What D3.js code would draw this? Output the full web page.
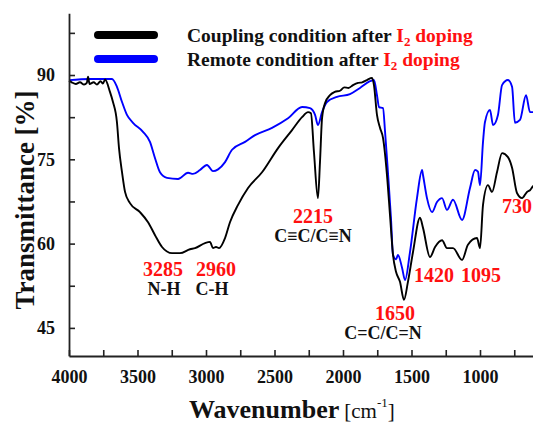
<!DOCTYPE html>
<html>
<head>
<meta charset="utf-8">
<script src="https://cdn.jsdelivr.net/npm/d3@7"></script>
<style>
  html, body { margin: 0; padding: 0; background: #fff; }
  svg { display: block; }
  text { font-family: "Liberation Serif", "Times New Roman", serif; }
</style>
</head>
<body>
<svg id="chart" width="533" height="425"></svg>
<script>
// ---------------- DATA ----------------
const seriesNames = ["Coupling condition after ", "Remote condition after "];
const dopingLabel = ["I", "2", " doping"];

const couplingWn = [4000, 3980, 3950, 3920, 3890, 3870, 3861, 3850, 3820, 3796, 3770, 3752, 3737,
  3701, 3679, 3650, 3635, 3613, 3591, 3555, 3482, 3423, 3372, 3321, 3248, 3190, 3117, 3080,
  3007, 2971, 2949, 2927, 2905, 2861, 2825, 2766, 2693, 2591, 2474, 2372, 2299, 2255, 2234,
  2212, 2183, 2168, 2153, 2131, 2095, 2060, 2022, 1990, 1960, 1927, 1890, 1860, 1825, 1788,
  1774, 1752, 1730, 1708, 1679, 1657, 1635, 1613, 1584, 1555, 1526, 1489, 1438, 1416, 1365,
  1328, 1277, 1241, 1197, 1131, 1088, 1022, 1000, 978, 942, 912, 876, 839, 796, 766, 730,
  693, 657, 635, 613, 600];
const couplingT = [89.0, 88.7, 88.4, 88.7, 88.3, 88.6, 89.7, 88.4, 88.7, 88.3, 88.9, 88.5, 89.2,
  87.0, 85.2, 81.6, 77.0, 72.7, 69.2, 67.2, 65.6, 63.8, 61.5, 59.4, 58.3, 58.3, 59.0, 59.2,
  60.1, 60.3, 59.2, 59.4, 59.2, 61.0, 63.8, 66.9, 69.9, 72.7, 77.0, 80.2, 82.5, 83.4, 83.2,
  76.3, 68.1, 74.5, 82.3, 85.0, 86.4, 87.0, 87.2, 87.8, 87.7, 88.2, 88.6, 88.7, 89.1, 89.5,
  88.2, 82.9, 80.6, 78.8, 72.2, 65.1, 58.0, 55.0, 53.2, 50.0, 53.2, 58.5, 64.6, 62.8, 57.6,
  59.4, 60.6, 59.2, 59.2, 57.1, 59.8, 61.0, 59.2, 66.9, 70.4, 69.2, 72.7, 76.1, 75.4, 73.5, 69.0,
  68.1, 69.2, 69.5, 70.2, 70.4];

const remoteWn = [4000, 3847, 3686, 3650, 3613, 3577, 3533, 3460, 3409, 3372, 3336, 3285, 3204,
  3131, 3095, 3044, 2993, 2949, 2912, 2861, 2810, 2715, 2642, 2518, 2401, 2299, 2241, 2204,
  2183, 2153, 2117, 2044, 1949, 1876, 1803, 1774, 1752, 1737, 1708, 1693, 1672, 1650, 1635,
  1612, 1599, 1569, 1547, 1511, 1460, 1423, 1416, 1387, 1350, 1314, 1277, 1241, 1197, 1131,
  1073, 1036, 1015, 1000, 978, 964, 927, 905, 869, 839, 796, 766, 745, 708, 664, 635, 613, 600];
const remoteT = [89.1, 89.3, 89.3, 87.9, 85.2, 82.9, 81.5, 79.9, 78.1, 75.2, 72.7, 71.7, 71.5,
  72.6, 72.4, 73.1, 74.0, 72.9, 73.2, 74.5, 76.7, 78.1, 79.3, 80.6, 82.3, 84.3, 84.1, 82.9,
  81.1, 83.4, 85.2, 86.1, 86.6, 87.7, 88.9, 89.1, 86.4, 84.3, 84.1, 79.9, 72.7, 64.6, 58.0,
  57.2, 58.0, 55.7, 53.5, 58.5, 68.1, 73.1, 72.2, 68.1, 65.6, 67.4, 68.1, 66.0, 67.8, 64.2,
  69.9, 73.1, 72.8, 70.4, 78.1, 81.6, 83.8, 81.1, 82.9, 88.2, 89.1, 87.9, 81.5, 82.0, 86.4, 83.4, 83.4, 83.4];

const xTickValues = [4000, 3500, 3000, 2500, 2000, 1500, 1000];
const xMinorTicks = [3750, 3250, 2750, 2250, 1750, 1250, 750];
const yTickValues = [45, 60, 75, 90];
const yMinorTicks = [52.5, 67.5, 82.5, 97.5];

const peakLabels = ["3285", "2960", "2215", "1650", "1420", "1095", "730"];
const bondLabels = ["N-H", "C-H", "C\u2261C/C\u2261N", "C=C/C=N"];

const xTitle = "Wavenumber";
const xUnit = ["[cm", "-1", "]"];
const yTitle = "Transmittance [%]";

// ---------------- DRAWING ----------------
const svg = d3.select("#chart");
const x = d3.scaleLinear().domain([4000, 600]).range([69, 534.8]);
const y = d3.scaleLinear().domain([40, 101]).range([356, 13.2]);

const RED = "#ff1010";
const axisColor = "#222";

// series lines
const line = d3.line().x(d => x(d[0])).y(d => y(d[1])).curve(d3.curveMonotoneX);
const coupling = couplingWn.map((w, i) => [w, couplingT[i]]);
const remote = remoteWn.map((w, i) => [w, remoteT[i]]);

svg.append("path").datum(remote)
  .attr("d", line).attr("fill", "none").attr("stroke", "#0000ff").attr("stroke-width", 1.9)
  .attr("stroke-linejoin", "round");
svg.append("path").datum(coupling)
  .attr("d", line).attr("fill", "none").attr("stroke", "#000").attr("stroke-width", 1.9)
  .attr("stroke-linejoin", "round");

// axes
const xAxis = d3.axisBottom(x).tickValues(xTickValues).tickSizeInner(-6).tickSizeOuter(0)
  .tickPadding(14).tickFormat(d3.format("d"));
const gx = svg.append("g").attr("transform", `translate(0,${y(40)})`).call(xAxis);
const xMinor = d3.axisBottom(x).tickValues(xMinorTicks).tickSizeInner(-6).tickSizeOuter(0).tickFormat("");
const gxm = svg.append("g").attr("transform", `translate(0,${y(40)})`).call(xMinor);
gxm.select(".domain").remove();

const yAxis = d3.axisLeft(y).tickValues(yTickValues).tickSizeInner(-6).tickSizeOuter(0)
  .tickPadding(14).tickFormat(d3.format("d"));
const gy = svg.append("g").attr("transform", `translate(${x(4000)},0)`).call(yAxis);
const yMinor = d3.axisLeft(y).tickValues(yMinorTicks).tickSizeInner(-6).tickSizeOuter(0).tickFormat("");
const gym = svg.append("g").attr("transform", `translate(${x(4000)},0)`).call(yMinor);
gym.select(".domain").remove();

[gx, gxm, gy, gym].forEach(g => {
  g.selectAll(".domain").attr("stroke", axisColor).attr("stroke-width", 1.8);
  g.selectAll(".tick line").attr("stroke", axisColor).attr("stroke-width", 1.6);
  g.selectAll(".tick text").attr("font-family", "Liberation Serif").attr("font-weight", "bold")
    .attr("font-size", 18).attr("fill", "#111");
});
gy.selectAll(".tick text").attr("dy", "0.33em");

// axis titles
const xt = svg.append("text").attr("x", 189).attr("y", 418)
  .attr("font-size", 26).attr("font-weight", "bold").attr("fill", "#111");
xt.append("tspan").text(xTitle);
xt.append("tspan").attr("font-weight", "normal").attr("font-size", 21).attr("dx", 5).text(xUnit[0]);
xt.append("tspan").attr("font-weight", "normal").attr("font-size", 13).attr("dy", -11).text(xUnit[1]);
xt.append("tspan").attr("font-weight", "normal").attr("font-size", 21).attr("dy", 11).text(xUnit[2]);

svg.append("text").attr("transform", "translate(34,200) rotate(-90)")
  .attr("text-anchor", "middle").attr("font-size", 27).attr("font-weight", "bold")
  .attr("fill", "#111").text(yTitle);

// legend
const legendColors = ["#000", "#0000ff"];
const legendY = [35, 59];
seriesNames.forEach((name, i) => {
  svg.append("line").attr("x1", 98).attr("x2", 154).attr("y1", legendY[i]).attr("y2", legendY[i])
    .attr("stroke", legendColors[i]).attr("stroke-width", 8).attr("stroke-linecap", "round");
  const t = svg.append("text").attr("x", 187).attr("y", legendY[i] + 7)
    .attr("font-size", 19.5).attr("font-weight", "bold").attr("fill", "#111");
  t.append("tspan").text(name);
  t.append("tspan").attr("fill", RED).text(dopingLabel[0]);
  t.append("tspan").attr("fill", RED).attr("font-size", 13).attr("dy", 4).text(dopingLabel[1]);
  t.append("tspan").attr("fill", RED).attr("dy", -4).text(dopingLabel[2]);
});

// peak annotations (anchor points in data units)
const peakPos = [[3314, 54.2], [2927, 54.2], [2219, 63.7], [1620, 46.4], [1336, 53.2], [993, 53.2], [730, 65.4]];
peakLabels.forEach((lab, i) => {
  svg.append("text").attr("x", x(peakPos[i][0])).attr("y", y(peakPos[i][1]))
    .attr("text-anchor", "middle").attr("font-size", 20).attr("font-weight", "bold")
    .attr("fill", RED).text(lab);
});
const bondPos = [[3307, 50.9], [2956, 50.9], [2219, 60.3], [1708, 43.0]];
bondLabels.forEach((lab, i) => {
  svg.append("text").attr("x", x(bondPos[i][0])).attr("y", y(bondPos[i][1]))
    .attr("text-anchor", "middle").attr("font-size", 18).attr("font-weight", "bold")
    .attr("fill", "#111").text(lab);
});
</script>
</body>
</html>
